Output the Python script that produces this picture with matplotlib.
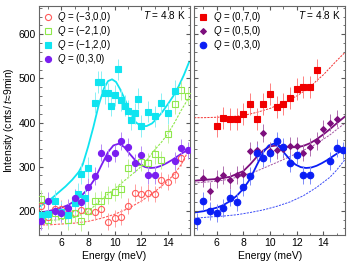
import numpy as np
import matplotlib
matplotlib.use("Agg")
import matplotlib.pyplot as plt
from matplotlib.ticker import MultipleLocator

plt.rcParams['font.family'] = ['Liberation Sans', 'DejaVu Sans']
plt.rcParams['mathtext.fontset'] = 'custom'
plt.rcParams['mathtext.it'] = 'Liberation Sans:italic'
plt.rcParams['mathtext.rm'] = 'Liberation Sans'

# Data (energy in meV, intensity in counts)
# Q = (0,3,0), shown in both panels
E_030 = [4.5, 5.0, 5.5, 6.0, 6.5, 7.0, 7.5, 8.0, 8.5, 9.0, 9.5, 10.0, 10.5,
         11.0, 11.5, 12.0, 12.5, 13.0, 14.5, 15.0, 15.5]
I_030 = [176, 222, 200, 195, 206, 230, 219, 254, 279, 332, 320, 330, 358,
         344, 309, 326, 281, 281, 313, 343, 337]

# Q = (-1,2,0)
E_m120 = [4.5, 5.0, 5.5, 6.0, 6.5, 7.0, 7.25, 7.5, 7.75, 8.0, 8.5, 8.75, 9.0,
          9.25, 9.5, 9.75, 10.0, 10.25, 10.5, 10.75, 11.0, 11.25, 11.5, 11.75,
          12.0, 12.5, 13.0, 13.5, 14.0, 14.5]
I_m120 = [190, 192, 222, 198, 190, 218, 238, 284, 228, 298, 445, 492, 492,
          466, 466, 438, 462, 521, 451, 438, 426, 406, 421, 454,
          392, 425, 414, 444, 421, 472]

# Q = (-2,1,0)
E_m210 = [4.5, 5.0, 5.5, 6.0, 6.5, 7.0, 7.5, 8.0, 8.5, 9.0, 9.5, 10.0, 10.5,
          11.0, 12.0, 12.5, 13.0, 13.5, 14.0, 14.5, 15.0, 15.5]
I_m210 = [226, 180, 195, 190, 178, 196, 176, 200, 222, 223, 236, 243, 250,
          296, 311, 309, 328, 315, 375, 441, 473, 460]

# Q = (-3,0,0)
E_m300 = [4.5, 5.0, 5.5, 6.0, 6.5, 7.0, 7.5, 8.0, 8.5, 9.0, 9.5, 10.0, 10.5,
          11.0, 11.5, 12.0, 12.5, 13.0, 13.5, 14.0, 14.5, 15.0]
I_m300 = [210, 185, 205, 205, 194, 196, 202, 200, 198, 205, 175, 183, 186,
          211, 241, 238, 241, 238, 270, 265, 282, 320]

# Q = (0,7,0)
E_070 = [6.0, 6.5, 7.0, 7.5, 8.0, 8.5, 9.0, 9.5, 10.0, 10.5, 11.0, 11.5,
         12.0, 12.5, 13.0, 13.5]
I_070 = [392, 411, 409, 409, 419, 443, 407, 441, 465, 435, 443, 456,
         475, 480, 480, 520]

# Q = (0,5,0)
E_050 = [5.0, 5.5, 6.0, 6.5, 7.0, 7.5, 8.0, 8.5, 9.0, 9.5, 10.0, 10.5, 11.0,
         11.5, 12.0, 12.5, 13.0, 13.5, 14.0, 14.5, 15.0]
I_050 = [274, 245, 272, 281, 269, 281, 284, 336, 338, 377, 335, 337, 340,
         347, 347, 332, 345, 358, 385, 400, 409]

# error bar half-lengths (one per series)
ERR_030, ERR_m120, ERR_m210, ERR_m300, ERR_070, ERR_050 = 20, 24, 21, 19, 25, 20

# fit curves
FE_m120 = [4.3, 4.8, 5.3, 5.8, 6.3, 6.8, 7.3, 7.6, 8.0, 8.4, 8.8, 9.2, 9.5,
           9.8, 10.1, 10.4, 10.8, 11.2, 11.6, 12.0, 12.4, 12.8, 13.2, 13.6,
           14.0, 14.4, 14.8, 15.2, 15.6]
FI_m120 = [209, 218, 229, 242, 255, 270, 288, 305, 345, 390, 440, 478, 494,
           498, 492, 476, 450, 420, 400, 392, 392, 398, 410, 425,
           442, 460, 482, 508, 538]

FE_030 = [4.3, 5.0, 5.5, 6.0, 6.5, 7.0, 7.5, 8.0, 8.5, 9.0, 9.5, 9.9, 10.3,
          10.7, 11.1, 11.5, 11.9, 12.3, 12.7, 13.1, 13.5, 13.9, 14.3, 14.7,
          15.1, 15.6]
FI_030 = [196, 199, 203, 207, 213, 222, 234, 250, 272, 303, 333, 348, 352,
          345, 330, 316, 305, 299, 297, 298, 302, 308, 315, 323,
          331, 340]
FE_030_bg = [4.3, 5.5, 6.5, 7.5, 8.5, 9.5, 10.5, 11.5, 12.5, 13.5, 14.5, 15.0, 15.6]
FI_030_bg = [183, 186, 188, 191, 196, 202, 210, 220, 234, 253, 276, 292, 315]

FE_m210 = [4.3, 5.0, 6.0, 7.0, 8.0, 8.8, 9.5, 10.2, 11.0, 11.8, 12.5, 13.0,
           13.5, 14.0, 14.5, 15.0, 15.6]
FI_m210 = [178, 178, 180, 185, 198, 220, 238, 255, 275, 295, 318, 338,
           355, 375, 400, 428, 458]

FE_m300 = [4.3, 5.0, 6.0, 7.0, 8.0, 9.0, 10.0, 11.0, 12.0, 13.0, 14.0, 14.5,
           15.0, 15.6]
FI_m300 = [168, 168, 170, 172, 176, 183, 192, 205, 222, 243, 268, 284,
           305, 340]

FE_070 = [4.3, 5.0, 6.0, 7.0, 8.0, 9.0, 10.0, 11.0, 12.0, 13.0, 13.5, 14.0,
          14.5, 15.0, 15.6]
FI_070 = [411, 411, 412, 413, 416, 423, 432, 445, 460, 480, 495, 508,
          524, 540, 558]

FE_050 = [4.3, 5.0, 6.0, 7.0, 8.0, 8.5, 9.0, 9.5, 10.0, 10.5, 11.0, 11.5,
          12.0, 12.5, 13.0, 13.5, 14.0, 14.5, 15.0, 15.6]
FI_050 = [268, 270, 272, 277, 290, 305, 322, 337, 346, 348, 346, 344,
          344, 347, 353, 362, 373, 385, 398, 413]
FE_050_bg = [4.3, 6.0, 7.0, 8.0, 9.0, 10.0, 11.0, 12.0, 13.0, 13.5, 14.0,
             14.5, 15.0, 15.6]
FI_050_bg = [263, 267, 272, 280, 290, 303, 316, 330, 344, 352, 362,
             372, 384, 398]

C_RED_L = '#ff5a5a'
C_GREEN = '#8ee84a'
C_CYAN = '#10e4f0'
C_VIOLET = '#7a1ef0'
C_RED = '#f00000'
C_MAG = '#7d0f7d'
C_BLUE = '#0a1ef5'

DASH = (0, (2.2, 1.2))


def series(ax, E, I, err, color, ecolor, marker, ms, label, mfc=None):
    ax.errorbar(E, I, yerr=err, fmt='none', ecolor=ecolor, elinewidth=0.7,
                capsize=0, zorder=2)
    ax.plot(E, I, ls='none', marker=marker, ms=ms, color=color,
            mfc=color if mfc is None else mfc, mew=0.8, label=label, zorder=3)


def style(ax):
    ax.set_xlim(4.3, 15.65)
    ax.set_ylim(145, 665)
    ax.xaxis.set_major_locator(MultipleLocator(2))
    ax.xaxis.set_minor_locator(MultipleLocator(1))
    ax.yaxis.set_major_locator(MultipleLocator(100))
    ax.yaxis.set_minor_locator(MultipleLocator(20))
    ax.tick_params(which='both', direction='in', top=True, right=True,
                   labelsize=7.5, color='0.35', pad=2)
    ax.tick_params(which='major', length=3)
    ax.tick_params(which='minor', length=1.8)
    for s in ax.spines.values():
        s.set_color('0.4')
        s.set_linewidth(0.8)


def legend(ax):
    ax.legend(loc='upper left', frameon=False, fontsize=7.0, handlelength=0.8,
              handletextpad=0.6, labelspacing=0.0, borderaxespad=0.2,
              borderpad=0.3)
    ax.text(0.97, 0.985, r'$T$ = 4.8 K', transform=ax.transAxes, ha='right',
            va='top', fontsize=7.2)


fig = plt.figure(figsize=(3.53, 2.68), dpi=100)
axL = fig.add_axes([0.110, 0.123, 0.428, 0.856])
axR = fig.add_axes([0.550, 0.123, 0.428, 0.856])

# Left panel
axL.plot(FE_m300, FI_m300, color=C_RED_L, lw=0.8, ls=DASH, zorder=1)
axL.plot(FE_m210, FI_m210, color=C_GREEN, lw=0.8, ls=DASH, zorder=1)
axL.plot(FE_m120, FI_m120, color=C_CYAN, lw=1.3, zorder=1)
axL.plot(FE_030, FI_030, color=C_VIOLET, lw=1.3, zorder=1)
series(axL, E_m300, I_m300, ERR_m300, C_RED_L, '#ffa0a0', 'o', 4.4,
       r'$Q$ = (−3,0,0)', mfc='none')
series(axL, E_m210, I_m210, ERR_m210, C_GREEN, '#c0f09a', 's', 4.2,
       r'$Q$ = (−2,1,0)', mfc='none')
series(axL, E_m120, I_m120, ERR_m120, C_CYAN, '#8af0f5', 's', 4.0,
       r'$Q$ = (−1,2,0)')
series(axL, E_030, I_030, ERR_030, C_VIOLET, '#b58af5', 'o', 4.4,
       r'$Q$ = (0,3,0)')
style(axL)
legend(axL)
axL.set_xlabel('Energy (meV)', fontsize=7.5, labelpad=2)
axL.set_ylabel(r'Intensity (cnts/ $t$≈9min)', fontsize=7.5, labelpad=2)

# Right panel
axR.plot(FE_070, FI_070, color=C_RED, lw=0.7, ls=DASH, alpha=0.8, zorder=1)
axR.plot(FE_050_bg, FI_050_bg, color=C_MAG, lw=0.7, ls=DASH, alpha=0.7, zorder=1)
axR.plot(FE_050, FI_050, color=C_MAG, lw=1.3, zorder=1)
axR.plot(FE_030_bg, FI_030_bg, color=C_BLUE, lw=0.7, ls=DASH, alpha=0.8, zorder=1)
axR.plot(FE_030, FI_030, color=C_BLUE, lw=1.3, zorder=1)
series(axR, E_070, I_070, ERR_070, C_RED, '#ff8080', 's', 4.4,
       r'$Q$ = (0,7,0)')
series(axR, E_050, I_050, ERR_050, C_MAG, '#b070b0', 'D', 3.0,
       r'$Q$ = (0,5,0)')
series(axR, E_030, I_030, ERR_030, C_BLUE, '#7f8cf8', 'o', 4.7,
       r'$Q$ = (0,3,0)')
style(axR)
axR.tick_params(labelleft=False)
legend(axR)
axR.set_xlabel('Energy (meV)', fontsize=7.5, labelpad=2)

fig.savefig('out.png', dpi=100)
